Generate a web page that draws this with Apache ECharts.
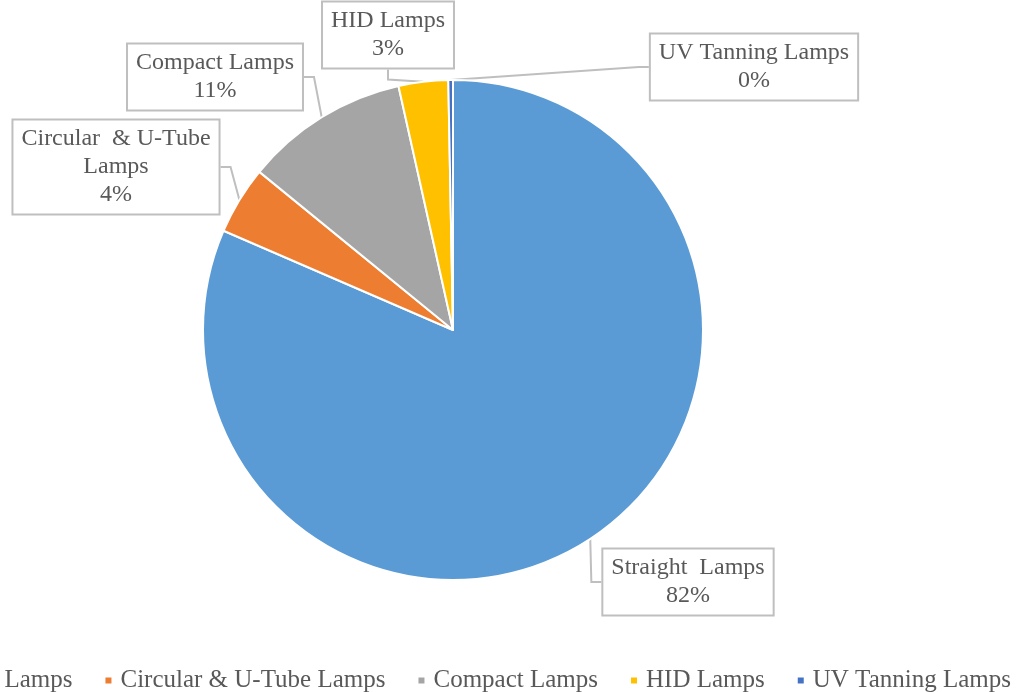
<!DOCTYPE html>
<html>
<head>
    <meta charset="utf-8">
    <title>Lamp Types</title>
    <script src="https://cdn.jsdelivr.net/npm/echarts@6/dist/echarts.min.js"></script>
</head>
<body style="margin:0;background:#fff;">
<div id="main" style="width:1026px;height:692px;"></div>
<script type="text/javascript">
    // data (share of total, %)
    var lampTypes = ['Straight Lamps', 'Circular & U-Tube Lamps', 'Compact Lamps', 'HID Lamps', 'UV Tanning Lamps'];
    var shares = [81.5, 4.4, 10.6, 3.2, 0.3];
    var colors = ['#5B9BD5', '#ED7D31', '#A5A5A5', '#FFC000', '#4472C4'];

    // where the callout boxes sit (centre of each box)
    var boxPos = [[688, 582], [116, 167], [215, 77], [388, 35], [754, 67]];

    var chart = echarts.init(document.getElementById('main'));

    var pieData = [];
    for (var i = 0; i < lampTypes.length; i++) {
        pieData.push({name: lampTypes[i], value: shares[i]});
    }

    var option = {
        color: colors,
        textStyle: {fontFamily: 'Liberation Serif'},
        legend: {
            left: -103,
            top: 663,
            icon: 'rect',
            itemWidth: 8,
            itemHeight: 8,
            itemGap: 31,
            textStyle: {fontFamily: 'Liberation Serif', fontSize: 25, color: '#595959', padding: [0, 0, 0, 3]},
            data: lampTypes
        },
        series: [
            {
                type: 'pie',
                // wide viewport so the left callouts are not truncated
                left: -300,
                top: 0,
                width: 1626,
                height: 692,
                center: [753, 330],
                radius: 250,
                startAngle: 90,
                percentPrecision: 0,
                itemStyle: {borderColor: '#fff', borderWidth: 2},
                label: {
                    show: true,
                    position: 'outside',
                    overflow: 'none',
                    fontFamily: 'Liberation Serif',
                    fontSize: 24,
                    lineHeight: 28,
                    color: '#595959',
                    backgroundColor: '#fff',
                    borderColor: '#bfbfbf',
                    borderWidth: 2,
                    padding: [5, 8, 4, 8],
                    align: 'center',
                    formatter: function (p) {
                        var name = p.name.replace('Straight Lamps', 'Straight  Lamps')
                            .replace('Circular & U-Tube ', 'Circular  & U-Tube\n');
                        return name + '\n' + p.percent + '%';
                    }
                },
                labelLine: {
                    show: true,
                    length: 10,
                    length2: 10,
                    lineStyle: {color: '#bfbfbf', width: 2}
                },
                labelLayout: function (params) {
                    var pos = boxPos[params.dataIndex];
                    return {x: pos[0], y: pos[1], align: 'center', verticalAlign: 'middle'};
                },
                emphasis: {disabled: true},
                data: pieData
            }
        ]
    };
    chart.setOption(option);
</script>
</body>
</html>
